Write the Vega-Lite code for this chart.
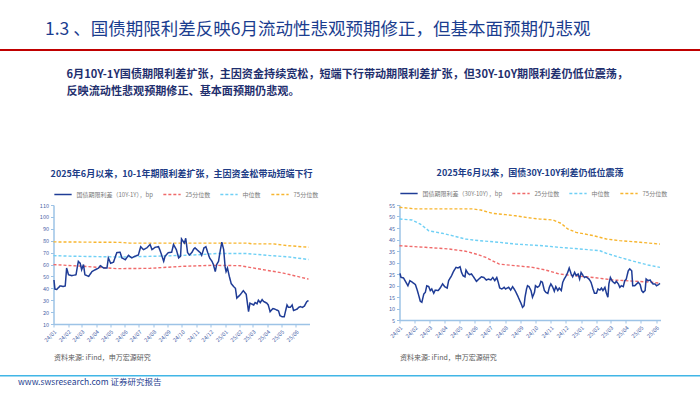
{
  "$schema": "https://vega.github.io/schema/vega-lite/v6.json",
  "padding": {"top": 20, "left": 0, "right": 0, "bottom": 0},
  "background": "white",
  "config": {
    "view": {"stroke": null},
    "font": "Noto Sans CJK SC",
    "axis": {"grid": false, "domainColor": "#9dc3e6", "domainWidth": 1.5, "tickColor": "#9dc3e6", "tickSize": 3, "labelFontSize": 5.5, "labelColor": "#4a64a8", "labelPadding": 2},
    "legend": {"orient": "top", "title": null, "direction": "horizontal", "labelFontSize": 6, "labelColor": "#7a7a7a", "symbolType": "stroke", "symbolStrokeWidth": 1.5, "symbolSize": 300, "columnPadding": 6, "gridAlign": "none", "labelLimit": 300, "offset": 7, "padding": 0}
  },
  "datasets": {
    "left": [
      {"date": "2024-01-02", "series": "国债期限利差（10Y-1Y），bp", "value": 47},
      {"date": "2024-01-04", "series": "国债期限利差（10Y-1Y），bp", "value": 39.3},
      {"date": "2024-01-08", "series": "国债期限利差（10Y-1Y），bp", "value": 39},
      {"date": "2024-01-15", "series": "国债期限利差（10Y-1Y），bp", "value": 42},
      {"date": "2024-01-22", "series": "国债期限利差（10Y-1Y），bp", "value": 41.5},
      {"date": "2024-01-26", "series": "国债期限利差（10Y-1Y），bp", "value": 42},
      {"date": "2024-01-29", "series": "国债期限利差（10Y-1Y），bp", "value": 57},
      {"date": "2024-02-02", "series": "国债期限利差（10Y-1Y），bp", "value": 51.4},
      {"date": "2024-02-09", "series": "国债期限利差（10Y-1Y），bp", "value": 50.6},
      {"date": "2024-02-18", "series": "国债期限利差（10Y-1Y），bp", "value": 51.4},
      {"date": "2024-02-23", "series": "国债期限利差（10Y-1Y），bp", "value": 62.7},
      {"date": "2024-02-27", "series": "国债期限利差（10Y-1Y），bp", "value": 61},
      {"date": "2024-03-01", "series": "国债期限利差（10Y-1Y），bp", "value": 55.6},
      {"date": "2024-03-05", "series": "国债期限利差（10Y-1Y），bp", "value": 60},
      {"date": "2024-03-08", "series": "国债期限利差（10Y-1Y），bp", "value": 51.4},
      {"date": "2024-03-16", "series": "国债期限利差（10Y-1Y），bp", "value": 50},
      {"date": "2024-03-23", "series": "国债期限利差（10Y-1Y），bp", "value": 54},
      {"date": "2024-03-30", "series": "国债期限利差（10Y-1Y），bp", "value": 55.6},
      {"date": "2024-04-06", "series": "国债期限利差（10Y-1Y），bp", "value": 57},
      {"date": "2024-04-10", "series": "国债期限利差（10Y-1Y），bp", "value": 59},
      {"date": "2024-04-17", "series": "国债期限利差（10Y-1Y），bp", "value": 57},
      {"date": "2024-04-24", "series": "国债期限利差（10Y-1Y），bp", "value": 57},
      {"date": "2024-04-27", "series": "国债期限利差（10Y-1Y），bp", "value": 65.5},
      {"date": "2024-05-02", "series": "国债期限利差（10Y-1Y），bp", "value": 61},
      {"date": "2024-05-08", "series": "国债期限利差（10Y-1Y），bp", "value": 62},
      {"date": "2024-05-15", "series": "国债期限利差（10Y-1Y），bp", "value": 70},
      {"date": "2024-05-22", "series": "国债期限利差（10Y-1Y），bp", "value": 70.3},
      {"date": "2024-05-26", "series": "国债期限利差（10Y-1Y），bp", "value": 65.5},
      {"date": "2024-06-02", "series": "国债期限利差（10Y-1Y），bp", "value": 64},
      {"date": "2024-06-09", "series": "国债期限利差（10Y-1Y），bp", "value": 67.7},
      {"date": "2024-06-16", "series": "国债期限利差（10Y-1Y），bp", "value": 65.5},
      {"date": "2024-06-23", "series": "国债期限利差（10Y-1Y），bp", "value": 67},
      {"date": "2024-06-30", "series": "国债期限利差（10Y-1Y），bp", "value": 68},
      {"date": "2024-07-05", "series": "国债期限利差（10Y-1Y），bp", "value": 75},
      {"date": "2024-07-11", "series": "国债期限利差（10Y-1Y），bp", "value": 72.5},
      {"date": "2024-07-18", "series": "国债期限利差（10Y-1Y），bp", "value": 74},
      {"date": "2024-07-25", "series": "国债期限利差（10Y-1Y），bp", "value": 76.8},
      {"date": "2024-07-29", "series": "国债期限利差（10Y-1Y），bp", "value": 72.5},
      {"date": "2024-08-05", "series": "国债期限利差（10Y-1Y），bp", "value": 74.5},
      {"date": "2024-08-12", "series": "国债期限利差（10Y-1Y），bp", "value": 75},
      {"date": "2024-08-16", "series": "国债期限利差（10Y-1Y），bp", "value": 71},
      {"date": "2024-08-23", "series": "国债期限利差（10Y-1Y），bp", "value": 62.7},
      {"date": "2024-08-26", "series": "国债期限利差（10Y-1Y），bp", "value": 67},
      {"date": "2024-09-02", "series": "国债期限利差（10Y-1Y），bp", "value": 70},
      {"date": "2024-09-09", "series": "国债期限利差（10Y-1Y），bp", "value": 70.3},
      {"date": "2024-09-13", "series": "国债期限利差（10Y-1Y），bp", "value": 76.8},
      {"date": "2024-09-19", "series": "国债期限利差（10Y-1Y），bp", "value": 72.5},
      {"date": "2024-09-24", "series": "国债期限利差（10Y-1Y），bp", "value": 65.5},
      {"date": "2024-09-28", "series": "国债期限利差（10Y-1Y），bp", "value": 67},
      {"date": "2024-09-30", "series": "国债期限利差（10Y-1Y），bp", "value": 81.5},
      {"date": "2024-10-06", "series": "国债期限利差（10Y-1Y），bp", "value": 78},
      {"date": "2024-10-09", "series": "国债期限利差（10Y-1Y），bp", "value": 82},
      {"date": "2024-10-13", "series": "国债期限利差（10Y-1Y），bp", "value": 70},
      {"date": "2024-10-17", "series": "国债期限利差（10Y-1Y），bp", "value": 68},
      {"date": "2024-10-22", "series": "国债期限利差（10Y-1Y），bp", "value": 70},
      {"date": "2024-10-26", "series": "国债期限利差（10Y-1Y），bp", "value": 73},
      {"date": "2024-10-29", "series": "国债期限利差（10Y-1Y），bp", "value": 74},
      {"date": "2024-11-03", "series": "国债期限利差（10Y-1Y），bp", "value": 72},
      {"date": "2024-11-09", "series": "国债期限利差（10Y-1Y），bp", "value": 70},
      {"date": "2024-11-12", "series": "国债期限利差（10Y-1Y），bp", "value": 67.7},
      {"date": "2024-11-17", "series": "国债期限利差（10Y-1Y），bp", "value": 74},
      {"date": "2024-11-21", "series": "国债期限利差（10Y-1Y），bp", "value": 75},
      {"date": "2024-11-25", "series": "国债期限利差（10Y-1Y），bp", "value": 70},
      {"date": "2024-11-29", "series": "国债期限利差（10Y-1Y），bp", "value": 65.5},
      {"date": "2024-12-04", "series": "国债期限利差（10Y-1Y），bp", "value": 62.7},
      {"date": "2024-12-07", "series": "国债期限利差（10Y-1Y），bp", "value": 60},
      {"date": "2024-12-11", "series": "国债期限利差（10Y-1Y），bp", "value": 54},
      {"date": "2024-12-14", "series": "国债期限利差（10Y-1Y），bp", "value": 60},
      {"date": "2024-12-18", "series": "国债期限利差（10Y-1Y），bp", "value": 62.7},
      {"date": "2024-12-22", "series": "国债期限利差（10Y-1Y），bp", "value": 72.5},
      {"date": "2024-12-25", "series": "国债期限利差（10Y-1Y），bp", "value": 78.7},
      {"date": "2024-12-29", "series": "国债期限利差（10Y-1Y），bp", "value": 72.5},
      {"date": "2025-01-01", "series": "国债期限利差（10Y-1Y），bp", "value": 58},
      {"date": "2025-01-03", "series": "国债期限利差（10Y-1Y），bp", "value": 54},
      {"date": "2025-01-06", "series": "国债期限利差（10Y-1Y），bp", "value": 57},
      {"date": "2025-01-10", "series": "国债期限利差（10Y-1Y），bp", "value": 50},
      {"date": "2025-01-14", "series": "国债期限利差（10Y-1Y），bp", "value": 44},
      {"date": "2025-01-19", "series": "国债期限利差（10Y-1Y），bp", "value": 41.5},
      {"date": "2025-01-23", "series": "国债期限利差（10Y-1Y），bp", "value": 40},
      {"date": "2025-01-26", "series": "国债期限利差（10Y-1Y），bp", "value": 31.7},
      {"date": "2025-02-02", "series": "国债期限利差（10Y-1Y），bp", "value": 34.5},
      {"date": "2025-02-09", "series": "国债期限利差（10Y-1Y），bp", "value": 38},
      {"date": "2025-02-15", "series": "国债期限利差（10Y-1Y），bp", "value": 35},
      {"date": "2025-02-20", "series": "国债期限利差（10Y-1Y），bp", "value": 20.4},
      {"date": "2025-02-23", "series": "国债期限利差（10Y-1Y），bp", "value": 27.5},
      {"date": "2025-03-03", "series": "国债期限利差（10Y-1Y），bp", "value": 26},
      {"date": "2025-03-06", "series": "国债期限利差（10Y-1Y），bp", "value": 28},
      {"date": "2025-03-10", "series": "国债期限利差（10Y-1Y），bp", "value": 27},
      {"date": "2025-03-13", "series": "国债期限利差（10Y-1Y），bp", "value": 30},
      {"date": "2025-03-17", "series": "国债期限利差（10Y-1Y），bp", "value": 28},
      {"date": "2025-03-21", "series": "国债期限利差（10Y-1Y），bp", "value": 30.5},
      {"date": "2025-03-24", "series": "国债期限利差（10Y-1Y），bp", "value": 29},
      {"date": "2025-03-31", "series": "国债期限利差（10Y-1Y），bp", "value": 27.5},
      {"date": "2025-04-03", "series": "国债期限利差（10Y-1Y），bp", "value": 26},
      {"date": "2025-04-07", "series": "国债期限利差（10Y-1Y），bp", "value": 20.4},
      {"date": "2025-04-13", "series": "国债期限利差（10Y-1Y），bp", "value": 23},
      {"date": "2025-04-17", "series": "国债期限利差（10Y-1Y），bp", "value": 22.5},
      {"date": "2025-04-21", "series": "国债期限利差（10Y-1Y），bp", "value": 21.8},
      {"date": "2025-04-25", "series": "国债期限利差（10Y-1Y），bp", "value": 21},
      {"date": "2025-04-28", "series": "国债期限利差（10Y-1Y），bp", "value": 17},
      {"date": "2025-05-03", "series": "国债期限利差（10Y-1Y），bp", "value": 16},
      {"date": "2025-05-07", "series": "国债期限利差（10Y-1Y），bp", "value": 16},
      {"date": "2025-05-13", "series": "国债期限利差（10Y-1Y），bp", "value": 26},
      {"date": "2025-05-16", "series": "国债期限利差（10Y-1Y），bp", "value": 24},
      {"date": "2025-05-20", "series": "国债期限利差（10Y-1Y），bp", "value": 24},
      {"date": "2025-05-24", "series": "国债期限利差（10Y-1Y），bp", "value": 26},
      {"date": "2025-05-27", "series": "国债期限利差（10Y-1Y），bp", "value": 21.3},
      {"date": "2025-06-03", "series": "国债期限利差（10Y-1Y），bp", "value": 22.4},
      {"date": "2025-06-07", "series": "国债期限利差（10Y-1Y），bp", "value": 24},
      {"date": "2025-06-10", "series": "国债期限利差（10Y-1Y），bp", "value": 24.6},
      {"date": "2025-06-15", "series": "国债期限利差（10Y-1Y），bp", "value": 24},
      {"date": "2025-06-19", "series": "国债期限利差（10Y-1Y），bp", "value": 25},
      {"date": "2025-06-24", "series": "国债期限利差（10Y-1Y），bp", "value": 28.7},
      {"date": "2025-06-28", "series": "国债期限利差（10Y-1Y），bp", "value": 29.7},
      {"date": "2024-01-01", "series": "25分位数", "value": 59.9},
      {"date": "2024-03-05", "series": "25分位数", "value": 58.5},
      {"date": "2024-05-15", "series": "25分位数", "value": 56.5},
      {"date": "2024-07-25", "series": "25分位数", "value": 56.8},
      {"date": "2024-10-04", "series": "25分位数", "value": 58.5},
      {"date": "2024-12-07", "series": "25分位数", "value": 59.3},
      {"date": "2025-02-02", "series": "25分位数", "value": 59},
      {"date": "2025-03-24", "series": "25分位数", "value": 55.6},
      {"date": "2025-05-05", "series": "25分位数", "value": 52.8},
      {"date": "2025-06-28", "series": "25分位数", "value": 47.7},
      {"date": "2024-01-01", "series": "中位数", "value": 67.5},
      {"date": "2024-02-04", "series": "中位数", "value": 67},
      {"date": "2024-05-22", "series": "中位数", "value": 66.3},
      {"date": "2024-08-12", "series": "中位数", "value": 67},
      {"date": "2024-10-26", "series": "中位数", "value": 68},
      {"date": "2024-12-14", "series": "中位数", "value": 69.2},
      {"date": "2025-02-16", "series": "中位数", "value": 69.2},
      {"date": "2025-04-07", "series": "中位数", "value": 67.5},
      {"date": "2025-05-13", "series": "中位数", "value": 66.5},
      {"date": "2025-06-28", "series": "中位数", "value": 64.2},
      {"date": "2024-01-01", "series": "75分位数", "value": 79},
      {"date": "2024-05-22", "series": "75分位数", "value": 78.6},
      {"date": "2024-06-12", "series": "75分位数", "value": 78},
      {"date": "2024-12-22", "series": "75分位数", "value": 78},
      {"date": "2025-02-16", "series": "75分位数", "value": 78},
      {"date": "2025-03-02", "series": "75分位数", "value": 77.3},
      {"date": "2025-04-14", "series": "75分位数", "value": 77.3},
      {"date": "2025-05-13", "series": "75分位数", "value": 75.9},
      {"date": "2025-06-28", "series": "75分位数", "value": 74.5}
    ],
    "right": [
      {"date": "2024-01-02", "series": "国债期限利差（30Y-10Y），bp", "value": 25.3},
      {"date": "2024-01-04", "series": "国债期限利差（30Y-10Y），bp", "value": 23.5},
      {"date": "2024-01-09", "series": "国债期限利差（30Y-10Y），bp", "value": 23.3},
      {"date": "2024-01-13", "series": "国债期限利差（30Y-10Y），bp", "value": 21.8},
      {"date": "2024-01-18", "series": "国债期限利差（30Y-10Y），bp", "value": 19.9},
      {"date": "2024-01-22", "series": "国债期限利差（30Y-10Y），bp", "value": 22.1},
      {"date": "2024-01-27", "series": "国债期限利差（30Y-10Y），bp", "value": 21.4},
      {"date": "2024-02-02", "series": "国债期限利差（30Y-10Y），bp", "value": 20.4},
      {"date": "2024-02-05", "series": "国债期限利差（30Y-10Y），bp", "value": 18.5},
      {"date": "2024-02-08", "series": "国债期限利差（30Y-10Y），bp", "value": 16.3},
      {"date": "2024-02-12", "series": "国债期限利差（30Y-10Y），bp", "value": 13.1},
      {"date": "2024-02-15", "series": "国债期限利差（30Y-10Y），bp", "value": 12.7},
      {"date": "2024-02-19", "series": "国债期限利差（30Y-10Y），bp", "value": 16.3},
      {"date": "2024-02-22", "series": "国债期限利差（30Y-10Y），bp", "value": 17},
      {"date": "2024-02-25", "series": "国债期限利差（30Y-10Y），bp", "value": 19.9},
      {"date": "2024-02-29", "series": "国债期限利差（30Y-10Y），bp", "value": 19.5},
      {"date": "2024-03-03", "series": "国债期限利差（30Y-10Y），bp", "value": 17.8},
      {"date": "2024-03-06", "series": "国债期限利差（30Y-10Y），bp", "value": 18.5},
      {"date": "2024-03-10", "series": "国债期限利差（30Y-10Y），bp", "value": 16.6},
      {"date": "2024-03-13", "series": "国债期限利差（30Y-10Y），bp", "value": 18},
      {"date": "2024-03-19", "series": "国债期限利差（30Y-10Y），bp", "value": 17.8},
      {"date": "2024-03-23", "series": "国债期限利差（30Y-10Y），bp", "value": 18.9},
      {"date": "2024-03-28", "series": "国债期限利差（30Y-10Y），bp", "value": 20.7},
      {"date": "2024-04-01", "series": "国债期限利差（30Y-10Y），bp", "value": 19.5},
      {"date": "2024-04-06", "series": "国债期限利差（30Y-10Y），bp", "value": 18.9},
      {"date": "2024-04-09", "series": "国债期限利差（30Y-10Y），bp", "value": 22.1},
      {"date": "2024-04-15", "series": "国债期限利差（30Y-10Y），bp", "value": 24.3},
      {"date": "2024-04-19", "series": "国债期限利差（30Y-10Y），bp", "value": 26.2},
      {"date": "2024-04-24", "series": "国债期限利差（30Y-10Y），bp", "value": 27.9},
      {"date": "2024-04-28", "series": "国债期限利差（30Y-10Y），bp", "value": 27.6},
      {"date": "2024-05-02", "series": "国债期限利差（30Y-10Y），bp", "value": 28.2},
      {"date": "2024-05-05", "series": "国债期限利差（30Y-10Y），bp", "value": 25.7},
      {"date": "2024-05-08", "series": "国债期限利差（30Y-10Y），bp", "value": 24.3},
      {"date": "2024-05-12", "series": "国债期限利差（30Y-10Y），bp", "value": 23.8},
      {"date": "2024-05-14", "series": "国债期限利差（30Y-10Y），bp", "value": 26.7},
      {"date": "2024-05-18", "series": "国债期限利差（30Y-10Y），bp", "value": 25.3},
      {"date": "2024-05-21", "series": "国债期限利差（30Y-10Y），bp", "value": 24.7},
      {"date": "2024-05-25", "series": "国债期限利差（30Y-10Y），bp", "value": 25},
      {"date": "2024-05-30", "series": "国债期限利差（30Y-10Y），bp", "value": 23.5},
      {"date": "2024-06-04", "series": "国债期限利差（30Y-10Y），bp", "value": 21.8},
      {"date": "2024-06-09", "series": "国债期限利差（30Y-10Y），bp", "value": 22.8},
      {"date": "2024-06-14", "series": "国债期限利差（30Y-10Y），bp", "value": 23.8},
      {"date": "2024-06-19", "series": "国债期限利差（30Y-10Y），bp", "value": 23.5},
      {"date": "2024-06-24", "series": "国债期限利差（30Y-10Y），bp", "value": 22.4},
      {"date": "2024-06-28", "series": "国债期限利差（30Y-10Y），bp", "value": 22.8},
      {"date": "2024-07-03", "series": "国债期限利差（30Y-10Y），bp", "value": 22.4},
      {"date": "2024-07-07", "series": "国债期限利差（30Y-10Y），bp", "value": 23.5},
      {"date": "2024-07-11", "series": "国债期限利差（30Y-10Y），bp", "value": 22.1},
      {"date": "2024-07-15", "series": "国债期限利差（30Y-10Y），bp", "value": 23.5},
      {"date": "2024-07-18", "series": "国债期限利差（30Y-10Y），bp", "value": 21.4},
      {"date": "2024-07-21", "series": "国债期限利差（30Y-10Y），bp", "value": 18.9},
      {"date": "2024-07-25", "series": "国债期限利差（30Y-10Y），bp", "value": 18.5},
      {"date": "2024-07-30", "series": "国债期限利差（30Y-10Y），bp", "value": 19.2},
      {"date": "2024-08-02", "series": "国债期限利差（30Y-10Y），bp", "value": 18.5},
      {"date": "2024-08-08", "series": "国债期限利差（30Y-10Y），bp", "value": 19.2},
      {"date": "2024-08-12", "series": "国债期限利差（30Y-10Y），bp", "value": 18},
      {"date": "2024-08-16", "series": "国债期限利差（30Y-10Y），bp", "value": 19.5},
      {"date": "2024-08-21", "series": "国债期限利差（30Y-10Y），bp", "value": 17.8},
      {"date": "2024-08-26", "series": "国债期限利差（30Y-10Y），bp", "value": 15.6},
      {"date": "2024-08-29", "series": "国债期限利差（30Y-10Y），bp", "value": 14.1},
      {"date": "2024-09-02", "series": "国债期限利差（30Y-10Y），bp", "value": 12.2},
      {"date": "2024-09-05", "series": "国债期限利差（30Y-10Y），bp", "value": 10.5},
      {"date": "2024-09-08", "series": "国债期限利差（30Y-10Y），bp", "value": 11.2},
      {"date": "2024-09-10", "series": "国债期限利差（30Y-10Y），bp", "value": 14.9},
      {"date": "2024-09-13", "series": "国债期限利差（30Y-10Y），bp", "value": 18.5},
      {"date": "2024-09-15", "series": "国债期限利差（30Y-10Y），bp", "value": 19.9},
      {"date": "2024-09-18", "series": "国债期限利差（30Y-10Y），bp", "value": 19.5},
      {"date": "2024-09-22", "series": "国债期限利差（30Y-10Y），bp", "value": 17.8},
      {"date": "2024-09-25", "series": "国债期限利差（30Y-10Y），bp", "value": 14.9},
      {"date": "2024-09-29", "series": "国债期限利差（30Y-10Y），bp", "value": 17},
      {"date": "2024-10-01", "series": "国债期限利差（30Y-10Y），bp", "value": 19.9},
      {"date": "2024-10-05", "series": "国债期限利差（30Y-10Y），bp", "value": 19.2},
      {"date": "2024-10-09", "series": "国债期限利差（30Y-10Y），bp", "value": 19.9},
      {"date": "2024-10-12", "series": "国债期限利差（30Y-10Y），bp", "value": 21.8},
      {"date": "2024-10-15", "series": "国债期限利差（30Y-10Y），bp", "value": 21.4},
      {"date": "2024-10-19", "series": "国债期限利差（30Y-10Y），bp", "value": 17.8},
      {"date": "2024-10-22", "series": "国债期限利差（30Y-10Y），bp", "value": 17},
      {"date": "2024-10-26", "series": "国债期限利差（30Y-10Y），bp", "value": 16.6},
      {"date": "2024-10-29", "series": "国债期限利差（30Y-10Y），bp", "value": 19.2},
      {"date": "2024-11-01", "series": "国债期限利差（30Y-10Y），bp", "value": 20.7},
      {"date": "2024-11-05", "series": "国债期限利差（30Y-10Y），bp", "value": 19.2},
      {"date": "2024-11-08", "series": "国债期限利差（30Y-10Y），bp", "value": 17.5},
      {"date": "2024-11-11", "series": "国债期限利差（30Y-10Y），bp", "value": 19.5},
      {"date": "2024-11-15", "series": "国债期限利差（30Y-10Y），bp", "value": 17.8},
      {"date": "2024-11-18", "series": "国债期限利差（30Y-10Y），bp", "value": 18.9},
      {"date": "2024-11-22", "series": "国债期限利差（30Y-10Y），bp", "value": 17.8},
      {"date": "2024-11-25", "series": "国债期限利差（30Y-10Y），bp", "value": 21.4},
      {"date": "2024-11-28", "series": "国债期限利差（30Y-10Y），bp", "value": 22.8},
      {"date": "2024-12-02", "series": "国债期限利差（30Y-10Y），bp", "value": 24.3},
      {"date": "2024-12-05", "series": "国债期限利差（30Y-10Y），bp", "value": 25.7},
      {"date": "2024-12-08", "series": "国债期限利差（30Y-10Y），bp", "value": 27.6},
      {"date": "2024-12-12", "series": "国债期限利差（30Y-10Y），bp", "value": 25},
      {"date": "2024-12-15", "series": "国债期限利差（30Y-10Y），bp", "value": 23.8},
      {"date": "2024-12-19", "series": "国债期限利差（30Y-10Y），bp", "value": 25.7},
      {"date": "2024-12-22", "series": "国债期限利差（30Y-10Y），bp", "value": 24.3},
      {"date": "2024-12-26", "series": "国债期限利差（30Y-10Y），bp", "value": 25},
      {"date": "2024-12-29", "series": "国债期限利差（30Y-10Y），bp", "value": 22.8},
      {"date": "2025-01-01", "series": "国债期限利差（30Y-10Y），bp", "value": 25.7},
      {"date": "2025-01-05", "series": "国债期限利差（30Y-10Y），bp", "value": 24.3},
      {"date": "2025-01-08", "series": "国债期限利差（30Y-10Y），bp", "value": 23.5},
      {"date": "2025-01-11", "series": "国债期限利差（30Y-10Y），bp", "value": 23.8},
      {"date": "2025-01-17", "series": "国债期限利差（30Y-10Y），bp", "value": 22.8},
      {"date": "2025-01-21", "series": "国债期限利差（30Y-10Y），bp", "value": 21.4},
      {"date": "2025-01-25", "series": "国债期限利差（30Y-10Y），bp", "value": 18.5},
      {"date": "2025-01-28", "series": "国债期限利差（30Y-10Y），bp", "value": 16.6},
      {"date": "2025-02-01", "series": "国债期限利差（30Y-10Y），bp", "value": 16.6},
      {"date": "2025-02-04", "series": "国债期限利差（30Y-10Y），bp", "value": 18.5},
      {"date": "2025-02-08", "series": "国债期限利差（30Y-10Y），bp", "value": 18},
      {"date": "2025-02-11", "series": "国债期限利差（30Y-10Y），bp", "value": 18.9},
      {"date": "2025-02-14", "series": "国债期限利差（30Y-10Y），bp", "value": 17.8},
      {"date": "2025-02-18", "series": "国债期限利差（30Y-10Y），bp", "value": 19.2},
      {"date": "2025-02-21", "series": "国债期限利差（30Y-10Y），bp", "value": 16.6},
      {"date": "2025-02-24", "series": "国债期限利差（30Y-10Y），bp", "value": 14.9},
      {"date": "2025-02-26", "series": "国债期限利差（30Y-10Y），bp", "value": 20.7},
      {"date": "2025-03-01", "series": "国债期限利差（30Y-10Y），bp", "value": 23.5},
      {"date": "2025-03-05", "series": "国债期限利差（30Y-10Y），bp", "value": 21.8},
      {"date": "2025-03-10", "series": "国债期限利差（30Y-10Y），bp", "value": 20.9},
      {"date": "2025-03-13", "series": "国债期限利差（30Y-10Y），bp", "value": 21.8},
      {"date": "2025-03-17", "series": "国债期限利差（30Y-10Y），bp", "value": 20.7},
      {"date": "2025-03-20", "series": "国债期限利差（30Y-10Y），bp", "value": 19.2},
      {"date": "2025-03-23", "series": "国债期限利差（30Y-10Y），bp", "value": 19.9},
      {"date": "2025-03-27", "series": "国债期限利差（30Y-10Y），bp", "value": 19.5},
      {"date": "2025-03-30", "series": "国债期限利差（30Y-10Y），bp", "value": 22.1},
      {"date": "2025-04-02", "series": "国债期限利差（30Y-10Y），bp", "value": 22.8},
      {"date": "2025-04-06", "series": "国债期限利差（30Y-10Y），bp", "value": 26.4},
      {"date": "2025-04-09", "series": "国债期限利差（30Y-10Y），bp", "value": 27.2},
      {"date": "2025-04-13", "series": "国债期限利差（30Y-10Y），bp", "value": 26.4},
      {"date": "2025-04-15", "series": "国债期限利差（30Y-10Y），bp", "value": 19.9},
      {"date": "2025-04-19", "series": "国债期限利差（30Y-10Y），bp", "value": 19.9},
      {"date": "2025-04-23", "series": "国债期限利差（30Y-10Y），bp", "value": 20.7},
      {"date": "2025-04-26", "series": "国债期限利差（30Y-10Y），bp", "value": 21.4},
      {"date": "2025-04-30", "series": "国债期限利差（30Y-10Y），bp", "value": 20.4},
      {"date": "2025-05-03", "series": "国债期限利差（30Y-10Y），bp", "value": 17.8},
      {"date": "2025-05-06", "series": "国债期限利差（30Y-10Y），bp", "value": 17},
      {"date": "2025-05-10", "series": "国债期限利差（30Y-10Y），bp", "value": 17.8},
      {"date": "2025-05-12", "series": "国债期限利差（30Y-10Y），bp", "value": 22.8},
      {"date": "2025-05-16", "series": "国债期限利差（30Y-10Y），bp", "value": 22.1},
      {"date": "2025-05-20", "series": "国债期限利差（30Y-10Y），bp", "value": 22.4},
      {"date": "2025-05-23", "series": "国债期限利差（30Y-10Y），bp", "value": 21.4},
      {"date": "2025-05-26", "series": "国债期限利差（30Y-10Y），bp", "value": 20.7},
      {"date": "2025-05-30", "series": "国债期限利差（30Y-10Y），bp", "value": 20.7},
      {"date": "2025-06-02", "series": "国债期限利差（30Y-10Y），bp", "value": 19.9},
      {"date": "2025-06-06", "series": "国债期限利差（30Y-10Y），bp", "value": 20.4},
      {"date": "2025-06-09", "series": "国债期限利差（30Y-10Y），bp", "value": 20.9},
      {"date": "2024-01-01", "series": "25分位数", "value": 37.3},
      {"date": "2024-02-22", "series": "25分位数", "value": 36.6},
      {"date": "2024-04-09", "series": "25分位数", "value": 35.9},
      {"date": "2024-05-13", "series": "25分位数", "value": 34.9},
      {"date": "2024-06-03", "series": "25分位数", "value": 33.7},
      {"date": "2024-06-23", "series": "25分位数", "value": 32.2},
      {"date": "2024-07-06", "series": "25分位数", "value": 30.8},
      {"date": "2024-07-20", "series": "25分位数", "value": 29.3},
      {"date": "2024-08-22", "series": "25分位数", "value": 28.6},
      {"date": "2024-09-25", "series": "25分位数", "value": 27.9},
      {"date": "2024-10-22", "series": "25分位数", "value": 26.7},
      {"date": "2024-11-18", "series": "25分位数", "value": 25},
      {"date": "2024-12-15", "series": "25分位数", "value": 24.3},
      {"date": "2025-01-25", "series": "25分位数", "value": 23.5},
      {"date": "2025-03-06", "series": "25分位数", "value": 22.4},
      {"date": "2025-04-26", "series": "25分位数", "value": 21.8},
      {"date": "2025-05-26", "series": "25分位数", "value": 21.4},
      {"date": "2025-06-09", "series": "25分位数", "value": 21},
      {"date": "2024-01-01", "series": "中位数", "value": 48.9},
      {"date": "2024-01-26", "series": "中位数", "value": 48.5},
      {"date": "2024-02-12", "series": "中位数", "value": 46.7},
      {"date": "2024-02-29", "series": "中位数", "value": 43.8},
      {"date": "2024-03-27", "series": "中位数", "value": 42.7},
      {"date": "2024-04-16", "series": "中位数", "value": 41.7},
      {"date": "2024-05-13", "series": "中位数", "value": 40.2},
      {"date": "2024-06-09", "series": "中位数", "value": 39.5},
      {"date": "2024-07-19", "series": "中位数", "value": 38.8},
      {"date": "2024-08-22", "series": "中位数", "value": 38},
      {"date": "2024-10-15", "series": "中位数", "value": 37.3},
      {"date": "2024-11-18", "series": "中位数", "value": 36.6},
      {"date": "2024-12-29", "series": "中位数", "value": 35.9},
      {"date": "2025-02-08", "series": "中位数", "value": 35.1},
      {"date": "2025-02-21", "series": "中位数", "value": 34},
      {"date": "2025-03-20", "series": "中位数", "value": 32.2},
      {"date": "2025-04-26", "series": "中位数", "value": 30},
      {"date": "2025-05-16", "series": "中位数", "value": 28.9},
      {"date": "2025-06-09", "series": "中位数", "value": 27.9},
      {"date": "2024-01-01", "series": "75分位数", "value": 54},
      {"date": "2024-02-02", "series": "75分位数", "value": 53.3},
      {"date": "2024-05-27", "series": "75分位数", "value": 53.3},
      {"date": "2024-06-13", "series": "75分位数", "value": 52.8},
      {"date": "2024-07-06", "series": "75分位数", "value": 51.4},
      {"date": "2024-08-02", "series": "75分位数", "value": 50.8},
      {"date": "2024-08-22", "series": "75分位数", "value": 50.3},
      {"date": "2024-09-12", "series": "75分位数", "value": 49.6},
      {"date": "2024-10-09", "series": "75分位数", "value": 48.9},
      {"date": "2024-11-05", "series": "75分位数", "value": 48.5},
      {"date": "2024-11-22", "series": "75分位数", "value": 47},
      {"date": "2024-12-05", "series": "75分位数", "value": 44.6},
      {"date": "2024-12-22", "series": "75分位数", "value": 43.1},
      {"date": "2025-01-25", "series": "75分位数", "value": 41.7},
      {"date": "2025-02-21", "series": "75分位数", "value": 40.2},
      {"date": "2025-03-20", "series": "75分位数", "value": 39.5},
      {"date": "2025-04-30", "series": "75分位数", "value": 38.8},
      {"date": "2025-06-09", "series": "75分位数", "value": 38}
    ]
  },
  "center": true,
  "spacing": 17,
  "vconcat": [
    {
      "width": 760,
      "height": 2,
      "view": {"fill": "#c00000", "stroke": null},
      "title": {"text": "1.3 、国债期限利差反映6月流动性悲观预期修正，但基本面预期仍悲观", "anchor": "start", "dx": 45, "fontSize": 17.5, "fontWeight": "normal", "color": "#1b3d8f", "offset": 11},
      "data": {"values": []},
      "mark": "rule",
      "encoding": {}
    },
    {
      "center": true,
      "spacing": 14,
      "vconcat": [
        {
          "title": {"text": ["6月10Y-1Y国债期限利差扩张，主因资金持续宽松，短端下行带动期限利差扩张，但30Y-10Y期限利差仍低位震荡，", "反映流动性悲观预期修正、基本面预期仍悲观。"], "anchor": "start", "dx": 66, "fontSize": 11.1, "fontWeight": "bold", "color": "#1f2f6e", "lineHeight": 17, "offset": 72},
          "spacing": 66,
          "hconcat": [
            {
              "width": 256,
              "height": 119,
              "title": {"text": "2025年6月以来，10-1年期限利差扩张，主因资金松带动短端下行", "fontSize": 9, "fontWeight": "bold", "color": "#203c86", "offset": 6},
              "data": {"name": "left"},
              "encoding": {
                "x": {"field": "date", "type": "temporal", "scale": {"domain": ["2024-01-01", "2025-06-30"]}, "axis": {"title": "资料来源: iFind，申万宏源研究", "titleAnchor": "start", "titleAlign": "left", "titleFontSize": 7, "titleFontWeight": "normal", "titleColor": "#595959", "titlePadding": 10, "format": "%y/%m", "tickCount": {"interval": "month", "step": 1}, "labelAngle": -45, "labelOverlap": false}},
                "y": {"field": "value", "type": "quantitative", "scale": {"domain": [10, 110], "nice": false}, "axis": {"title": null, "minExtent": 53, "values": [10, 20, 30, 40, 50, 60, 70, 80, 90, 100, 110]}},
                "color": {"field": "series", "type": "nominal", "scale": {"domain": ["国债期限利差（10Y-1Y），bp", "25分位数", "中位数", "75分位数"], "range": ["#1f3c96", "#f06a6a", "#6fd0f5", "#f7b52e"]}},
                "strokeDash": {"field": "series", "type": "nominal", "scale": {"domain": ["国债期限利差（10Y-1Y），bp", "25分位数", "中位数", "75分位数"], "range": [[1, 0], [3, 2], [3, 2], [3, 2]]}}
              },
              "layer": [
                {"transform": [{"filter": "datum.series !== '国债期限利差（10Y-1Y），bp'"}], "mark": {"type": "line", "strokeWidth": 1.4}},
                {"transform": [{"filter": "datum.series === '国债期限利差（10Y-1Y），bp'"}], "mark": {"type": "line", "strokeWidth": 1.5}}
              ]
            },
            {
              "width": 261,
              "height": 115,
              "title": {"text": "2025年6月以来，国债30Y-10Y利差仍低位震荡", "fontSize": 9, "fontWeight": "bold", "color": "#203c86", "offset": 6},
              "data": {"name": "right"},
              "encoding": {
                "x": {"field": "date", "type": "temporal", "scale": {"domain": ["2024-01-01", "2025-06-10"]}, "axis": {"title": "资料来源: iFind，申万宏源研究", "titleAnchor": "start", "titleAlign": "left", "titleFontSize": 7, "titleFontWeight": "normal", "titleColor": "#595959", "titlePadding": 14, "format": "%y/%m", "tickCount": {"interval": "month", "step": 1}, "labelAngle": -45, "labelOverlap": false}}
              },
              "layer": [
                {
                  "encoding": {
                    "y": {"field": "value", "type": "quantitative", "scale": {"domain": [5, 55], "nice": false}, "axis": {"title": null, "minExtent": 15, "values": [5, 10, 15, 20, 25, 30, 35, 40, 45, 50, 55]}},
                    "color": {"field": "series", "type": "nominal", "scale": {"domain": ["国债期限利差（30Y-10Y），bp", "25分位数", "中位数", "75分位数"], "range": ["#1f3c96", "#f06a6a", "#6fd0f5", "#f7b52e"]}},
                    "strokeDash": {"field": "series", "type": "nominal", "scale": {"domain": ["国债期限利差（30Y-10Y），bp", "25分位数", "中位数", "75分位数"], "range": [[1, 0], [3, 2], [3, 2], [3, 2]]}}
                  },
                  "layer": [
                    {"transform": [{"filter": "datum.series !== '国债期限利差（30Y-10Y），bp'"}], "mark": {"type": "line", "strokeWidth": 1.4}},
                    {"transform": [{"filter": "datum.series === '国债期限利差（30Y-10Y），bp'"}], "mark": {"type": "line", "strokeWidth": 1.5}}
                  ]
                },
                {
                  "mark": {"type": "point", "opacity": 0},
                  "encoding": {
                    "y": {"field": "value", "type": "quantitative", "scale": {"domain": [5, 55], "nice": false}, "axis": {"orient": "right", "title": null, "labels": false, "ticks": false, "domain": false, "grid": false, "minExtent": 46}}
                  }
                }
              ],
              "resolve": {"axis": {"y": "independent"}}
            }
          ],
          "resolve": {"scale": {"color": "independent", "strokeDash": "independent", "x": "independent", "y": "independent"}}
        },
        {
          "width": 760,
          "height": 1.5,
          "view": {"fill": "#41b6e6", "stroke": null},
          "title": {"text": "www.swsresearch.com   证券研究报告", "orient": "bottom", "anchor": "start", "dx": 18, "fontSize": 8.5, "fontWeight": "normal", "color": "#1f3f8f", "offset": 1},
          "data": {"values": []},
          "mark": "rule",
          "encoding": {}
        }
      ]
    }
  ]
}
